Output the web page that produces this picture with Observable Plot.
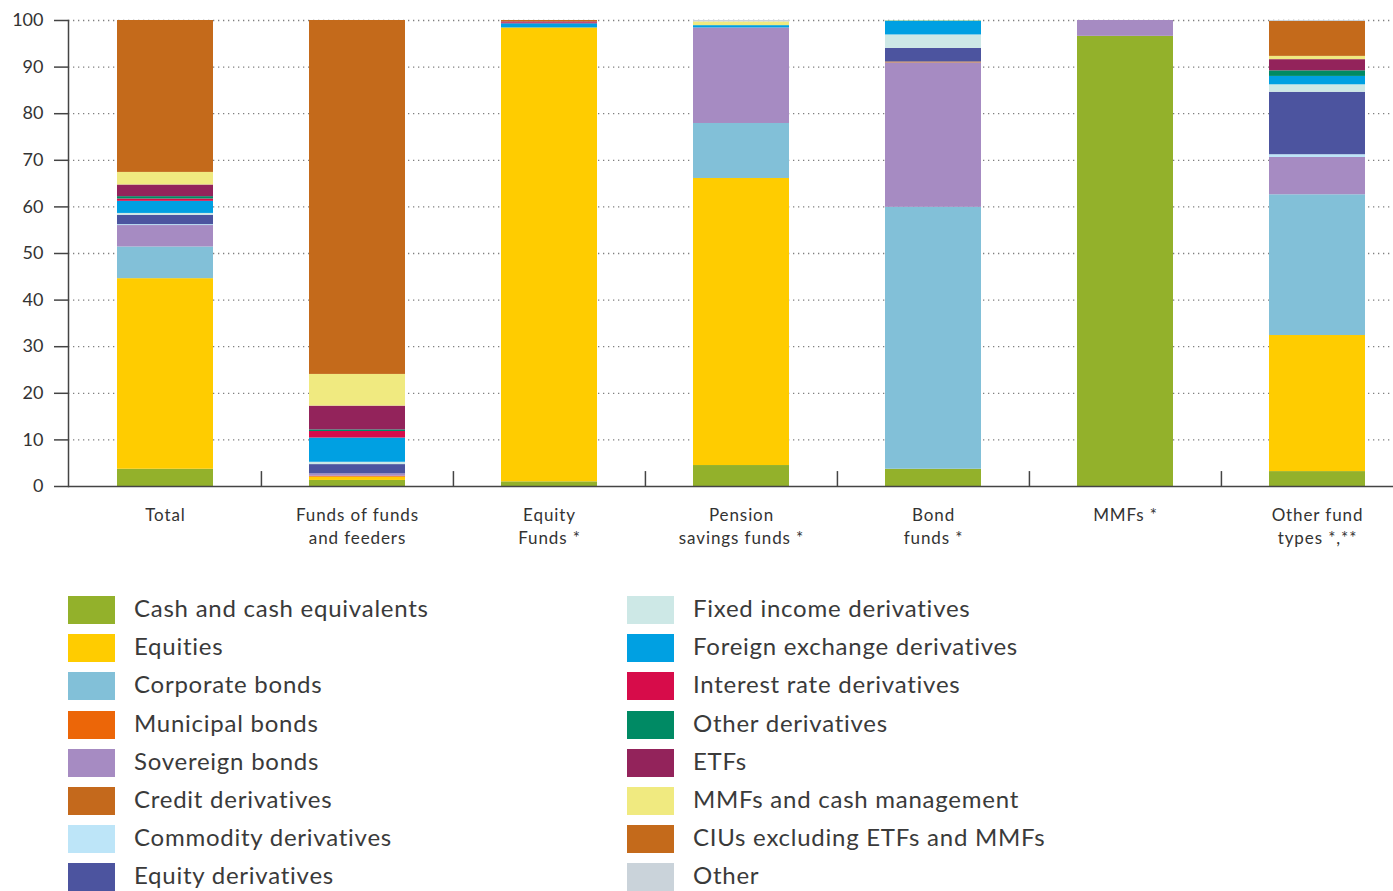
<!DOCTYPE html>
<html>
<head>
<meta charset="utf-8">
<script src="https://cdn.jsdelivr.net/npm/d3@7"></script>
<script src="https://cdn.jsdelivr.net/npm/@observablehq/plot@0.6"></script>
<style>
  html, body { margin: 0; padding: 0; background: white; }
  #wrap { position: relative; width: 1393px; height: 891px; overflow: hidden; font-family: Lato, "Noto Sans", sans-serif; }
  #chart { position: absolute; left: 0; top: 0; }
  .legend { position: absolute; top: 596px; }
  .item { display: flex; align-items: center; height: 28px; margin-bottom: 10.2px; font-size: 24px; letter-spacing: 0.75px; color: #3a3a3a; white-space: nowrap; line-height: 28px; }
  .item span.t { position: relative; top: -2px; }
  .sw { width: 47px; height: 28px; margin-right: 19px; flex: none; }
  svg text.axisx { letter-spacing: 0.9px; }
</style>
</head>
<body>
<div id="wrap">
  <div id="chart"></div>
  <div class="legend" id="legL" style="left:68px"></div>
  <div class="legend" id="legR" style="left:627px"></div>
</div>
<script>
const categories = ["Total", "Funds of funds\nand feeders", "Equity\nFunds *", "Pension\nsavings funds *", "Bond\nfunds *", "MMFs *", "Other fund\ntypes *,**"];

const seriesNames = [
  "Cash and cash equivalents", "Equities", "Corporate bonds", "Municipal bonds",
  "Sovereign bonds", "Credit derivatives", "Commodity derivatives", "Equity derivatives",
  "Fixed income derivatives", "Foreign exchange derivatives", "Interest rate derivatives",
  "Other derivatives", "ETFs", "MMFs and cash management", "CIUs excluding ETFs and MMFs", "Other"
];
const seriesColors = [
  "#93b12b", "#ffcc00", "#82c0d8", "#ec6608",
  "#a68bc2", "#c4691c", "#bde5f8", "#4c549f",
  "#cde8e6", "#00a0e2", "#d70c4a",
  "#008a64", "#93235b", "#f0ea80", "#c46a1b", "#cad3da"
];

// values per category: Total, Funds of funds, Equity, Pension, Bond, MMFs, Other fund types
const cash         = [3.7, 1.3, 1.0, 4.5, 3.7, 96.6, 3.2];
const equities     = [40.9, 0.7, 97.4, 61.6, 0, 0, 29.2];
const corporate    = [6.8, 0, 0, 11.8, 56.2, 0, 30.2];
const municipal    = [0, 0.2, 0, 0, 0, 0, 0];
const sovereign    = [4.6, 0.5, 0, 20.5, 31.0, 3.4, 8.0];
const creditDeriv  = [0, 0, 0, 0, 0.2, 0, 0];
const commodity    = [0.2, 0, 0, 0, 0, 0, 0.6];
const equityDeriv  = [2.0, 2.0, 0, 0, 2.9, 0, 13.4];
const fixedIncome  = [0.4, 0.5, 0, 0, 2.9, 0, 1.6];
const fxDeriv      = [2.6, 5.2, 0.9, 0.5, 3.0, 0, 1.8];
const interestRate = [0.5, 1.4, 0.2, 0, 0, 0, 0];
const otherDeriv   = [0.5, 0.35, 0, 0, 0, 0, 1.2];
const etfs         = [2.5, 5.1, 0.2, 0, 0, 0, 2.4];
const mmfs         = [2.7, 6.8, 0, 0.8, 0.1, 0, 0.7];
const cius         = [32.6, 75.95, 0.3, 0, 0, 0, 7.5];
const other        = [0, 0, 0, 0.3, 0, 0, 0.2];

const yTicks = [0, 10, 20, 30, 40, 50, 60, 70, 80, 90, 100];

const seriesValues = [cash, equities, corporate, municipal, sovereign, creditDeriv, commodity,
  equityDeriv, fixedIncome, fxDeriv, interestRate, otherDeriv, etfs, mmfs, cius, other];

const tidy = [];
seriesNames.forEach((s, si) => {
  categories.forEach((c, ci) => {
    tidy.push({category: c, series: s, value: seriesValues[si][ci]});
  });
});

const xRange = [68, 1413];
const step = (xRange[1] - xRange[0]) / categories.length;

const chart = Plot.plot({
  width: 1393,
  height: 560,
  marginLeft: 68,
  marginRight: 0,
  marginTop: 20,
  marginBottom: 74,
  x: {domain: categories, range: xRange, paddingInner: 0.5, paddingOuter: 0.25, axis: null},
  y: {domain: [0, 100], axis: null},
  color: {domain: seriesNames, range: seriesColors},
  style: {fontFamily: "Lato, 'Noto Sans', sans-serif", color: "#333", background: "white"},
  marks: [
    Plot.gridY(yTicks.slice(1), {stroke: "#808080", strokeOpacity: 1, strokeWidth: 1.3, strokeDasharray: "1.3,3.7"}),
    Plot.barY(tidy, {x: "category", y: "value", fill: "series", order: seriesNames}),
    Plot.ruleY([0], {stroke: "#444", strokeWidth: 1.5}),
    Plot.frame({anchor: "left", stroke: "#444", strokeWidth: 1.5}),
    Plot.ruleX(categories.slice(1), {x: d => d, dx: -step / 2, y1: 0, y2: 3.2, stroke: "#444", strokeWidth: 1.5}),
    Plot.axisY(yTicks, {tickSize: 14, tickPadding: 11, fontSize: 18, label: null, stroke: "#444", strokeWidth: 1.5}),
    Plot.axisX({tickSize: 0, tickPadding: 19, fontSize: 17, lineHeight: 1.32, label: null, className: "axisx"})
  ]
});
chart.querySelectorAll("g[aria-label='x-axis tick label'] text").forEach(t => t.setAttribute("class", "axisx"));
document.getElementById("chart").appendChild(chart);

function addLegend(id, names) {
  const el = document.getElementById(id);
  names.forEach(n => {
    const i = seriesNames.indexOf(n);
    const item = document.createElement("div");
    item.className = "item";
    const sw = document.createElement("span");
    sw.className = "sw";
    sw.style.background = seriesColors[i];
    const t = document.createElement("span");
    t.className = "t";
    t.textContent = n;
    item.appendChild(sw);
    item.appendChild(t);
    el.appendChild(item);
  });
}
addLegend("legL", seriesNames.slice(0, 8));
addLegend("legR", seriesNames.slice(8));
</script>
</body>
</html>
